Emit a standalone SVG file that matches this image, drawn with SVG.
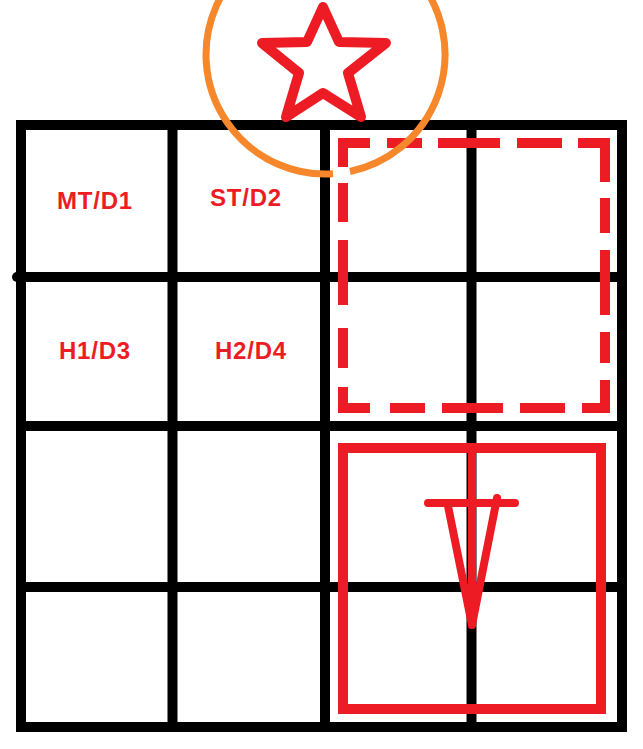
<svg xmlns="http://www.w3.org/2000/svg" width="643" height="749" viewBox="0 0 643 749">
<style>
.grid{fill:none;stroke:#000;stroke-width:10}
.red{fill:none;stroke:#ED1C24;stroke-width:10}
.sym{fill:none;stroke:#ED1C24;stroke-width:8;stroke-linecap:round;stroke-linejoin:round}
.lbl{font-family:"Liberation Sans",Arial,sans-serif;font-weight:bold;font-size:24px;letter-spacing:0.8px;fill:#ED1C24;text-anchor:middle}
</style>
<rect width="643" height="749" fill="#fff"/>
<g id="grid">
<rect class="grid" x="21" y="125" width="601" height="602"/>
<path class="grid" d="M172.5,125V727M325,125V727M471.5,125V727M21,426H622M21,587H622"/>
<path class="grid" d="M17,277H622" stroke-linecap="butt"/>
<circle cx="17" cy="277" r="5" fill="#000"/>
</g>
<g id="dashed-box">
<path class="red" stroke-linejoin="miter" d="M343,167V143H370M387,143H422M438,143H500M517,143H562M578,143H605V182M605,198V233M605,250V315M605,332V363M605,380V408H582M565,408H520M503,408H442M425,408H390M370,408H343V387M343,368V328M343,305V240M343,222V183"/>
</g>
<g id="solid-box">
<rect class="red" x="343" y="448" width="258" height="261"/>
</g>
<g id="marker-symbol">
<path class="sym" stroke-width="10" d="M472,450V625"/>
<path class="sym" d="M428,503H515M448,506L472,625L497,498"/>
</g>
<g id="circle">
<path d="M350,171.5A119.5,119.5 0 1 0 333,173.8" fill="none" stroke="#F7872B" stroke-width="7"/>
</g>
<g id="star">
<path d="M323,7L339,42L386,43L348,73L361,117L323,93L286,117L299,73L262,43L307,42Z" fill="none" stroke="#ED1C24" stroke-width="10" stroke-linejoin="round"/>
</g>
<g id="cell-MT-D1"><text class="lbl" x="95" y="209">MT/D1</text></g>
<g id="cell-ST-D2"><text class="lbl" x="246" y="206">ST/D2</text></g>
<g id="cell-H1-D3"><text class="lbl" x="95" y="359">H1/D3</text></g>
<g id="cell-H2-D4"><text class="lbl" x="251" y="359">H2/D4</text></g>
</svg>
